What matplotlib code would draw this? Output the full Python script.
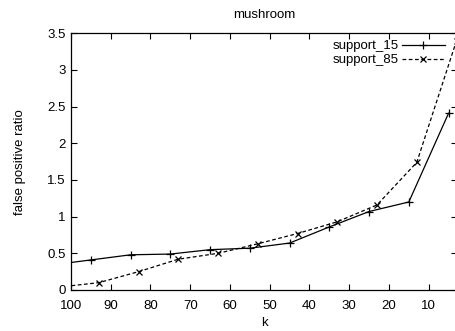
import matplotlib
matplotlib.use('Agg')
import matplotlib.pyplot as plt

plt.rcParams['font.family'] = ['Liberation Sans', 'DejaVu Sans']

# false positive ratio against k, two support levels
k_15 = [105, 95, 85, 75, 65, 55, 45, 35, 25, 15, 5]
fp_15 = [0.34, 0.41, 0.48, 0.49, 0.55, 0.57, 0.64, 0.86, 1.07, 1.20, 2.41]

k_85 = [103, 93, 83, 73, 63, 53, 43, 33, 23, 13, 3]
fp_85 = [0.04, 0.10, 0.25, 0.42, 0.50, 0.63, 0.77, 0.93, 1.16, 1.74, 3.40]

fig = plt.figure(figsize=(4.56, 3.31), dpi=100)
ax = fig.add_axes([71 / 456, 41 / 331, 1 - 71 / 456 + 0.002, 256.7 / 331])

ax.plot(k_15, fp_15, color='black', lw=0.9, marker='+', ms=6, mew=0.9,
        label='support_15')
ax.plot(k_85, fp_85, color='black', lw=0.9, ls=(0, (3, 2)), marker='x', ms=5, mew=0.9,
        label='support_85')

ax.set_xlim(100, 2.9)
ax.set_ylim(0, 3.5)
ax.set_xticks([100, 90, 80, 70, 60, 50, 40, 30, 20, 10])
ax.set_yticks([0, 0.5, 1, 1.5, 2, 2.5, 3, 3.5])
ax.set_yticklabels(['0', '0.5', '1', '1.5', '2', '2.5', '3', '3.5'])
ax.tick_params(direction='in', top=True, right=True, length=4, width=0.8, labelsize=9.5)
ax.tick_params(axis='x', pad=7)
ax.tick_params(axis='y', pad=4)
for s in ax.spines.values():
    s.set_linewidth(0.9)

ax.set_title('mushroom', fontsize=9.5, pad=11)
ax.set_xlabel('k', fontsize=9.5, labelpad=4)
ax.set_ylabel('false positive ratio', fontsize=9.5, labelpad=15)

ax.legend(loc='upper right', frameon=False, markerfirst=False, fontsize=9.5,
          handlelength=3.2, handletextpad=0.3, labelspacing=0.15, borderaxespad=0.3,
          borderpad=0.2, numpoints=1, bbox_to_anchor=(0.985, 1.0))

fig.savefig('out.png', dpi=100)
